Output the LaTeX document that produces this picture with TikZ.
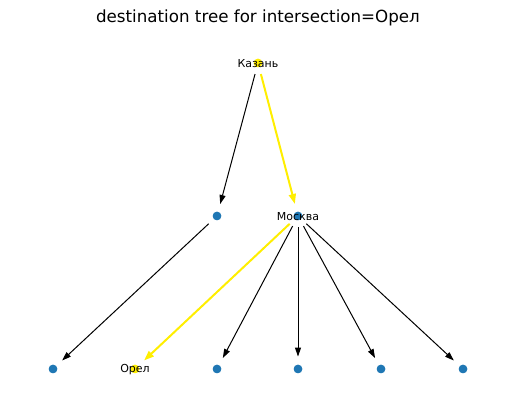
\documentclass[tikz,border=0pt]{standalone}
\usepackage{fontspec}
\setmainfont{DejaVu Sans}
\usetikzlibrary{arrows.meta}
\definecolor{nodeblue}{HTML}{1F77B4}
\definecolor{pathyellow}{HTML}{FFEE00}

\begin{document}
\begin{tikzpicture}[x=1pt,y=-1pt,
                    dot/.style={circle,fill=nodeblue,inner sep=0pt,minimum size=8.5pt},
                    hit/.style={dot,fill=pathyellow},
                    lbl/.style={font=\fontsize{11}{13}\selectfont,inner sep=0pt},
                    edge/.style={-{Triangle[length=9pt,width=6pt]},line width=1pt,black,
                                 shorten <=7pt,shorten >=8pt},
                    route/.style={edge,line width=2pt,pathyellow,-{Triangle[length=10pt,width=7pt]}}]
  \path[use as bounding box] (0,0) rectangle (515,411);
  \node[font=\fontsize{16.7}{20}\selectfont] (title) at (258,18) {destination tree for intersection=Орел};

  % nodes
  \node[hit] (kazan) at (258,63) {};
  \node[dot] (mid) at (217,216) {};
  \node[dot] (moskva) at (298,216) {};
  \node[dot] (leaf1) at (53,369) {};
  \node[hit] (orel) at (135,369) {};
  \foreach \n/\x in {leaf3/217,leaf4/298,leaf5/381,leaf6/463}
    \node[dot] (\n) at (\x,369) {};

  % edges
  \draw[edge] (kazan) -- (mid);
  \draw[edge] (mid) -- (leaf1);
  \foreach \n in {leaf3,leaf4,leaf5,leaf6}
    \draw[edge] (moskva) -- (\n);
  \draw[route] (kazan) -- (moskva);
  \draw[route] (moskva) -- (orel);

  % dots again above the edges, then labels
  \foreach \n in {mid,moskva,leaf1,leaf3,leaf4,leaf5,leaf6}
    \fill[nodeblue] (\n) circle [radius=4.25pt];
  \fill[pathyellow] (kazan) circle [radius=4.25pt];
  \fill[pathyellow] (orel) circle [radius=4.25pt];
  \node[lbl] (kazanlbl) at ([yshift=-0.5pt]kazan) {Казань};
  \node[lbl] (moskvalbl) at ([yshift=-0.5pt]moskva) {Москва};
  \node[lbl] (orellbl) at ([yshift=-0.5pt]orel) {Орел};
\end{tikzpicture}
\end{document}
